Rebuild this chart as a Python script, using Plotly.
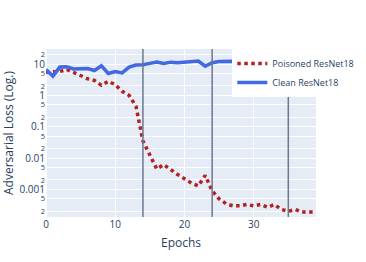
import plotly.graph_objects as go

epochs = list(range(40))
poisoned = [5.5, 5.6, 5.8, 6.7, 5.5, 4.3, 3.4, 3.0, 2.1, 2.8,
            2.2, 1.35, 1.0, 0.45, 0.035, 0.012, 0.0045, 0.0062, 0.0042, 0.003,
            0.0022, 0.0016, 0.0013, 0.0028, 0.0009, 0.0005, 0.00035, 0.0003, 0.0003, 0.00033,
            0.0003, 0.00033, 0.00027, 0.00033, 0.00023, 0.0002, 0.00023, 0.00019, 0.00019, 0.00019]
clean = [6.7, 4.1, 8.0, 8.2, 7.0, 7.0, 7.2, 6.2, 8.8, 5.0,
         5.8, 5.2, 8.0, 9.3, 9.5, 10.5, 11.5, 10.5, 11.5, 11.0,
         11.5, 12.0, 12.5, 8.5, 11.0, 12.0, 12.3, 12.3, 12.0, 11.8,
         11.8, 12.0, 12.0, 11.8, 12.0, 12.0, 11.8, 12.0, 12.0, 12.0]
vlines = [14, 24, 35]

fig = go.Figure()
fig.add_trace(go.Scatter(x=epochs, y=poisoned, mode="lines", name="Poisoned ResNet18",
                         line=dict(color="#B22222", width=3.5, dash="dot")))
fig.add_trace(go.Scatter(x=epochs, y=clean, mode="lines", name="Clean ResNet18",
                         line=dict(color="#4169E1", width=3.5)))
for v in vlines:
    fig.add_vline(x=v, line=dict(color="#6a7890", width=1.5))

fig.update_layout(
    width=366, height=262,
    margin=dict(l=46, r=50, t=49, b=45, autoexpand=False),
    template="plotly",
    font=dict(size=10),
    legend=dict(x=0.69, y=1.0, xanchor="left", yanchor="top", bgcolor="white",
                font=dict(size=9)),
    xaxis=dict(title=dict(text="Epochs", font=dict(size=12), standoff=8), range=[0, 39],
               automargin=False, tickfont=dict(size=10)),
    yaxis=dict(type="log", title=dict(text="Adversarial Loss (Log.)", font=dict(size=12), standoff=6),
               range=[-3.88, 1.48], dtick="D2", automargin=True, tickfont=dict(size=10)),
)
fig.write_html("out.html", config={"displayModeBar": False},
               post_script="document.body.style.margin='0px';")
